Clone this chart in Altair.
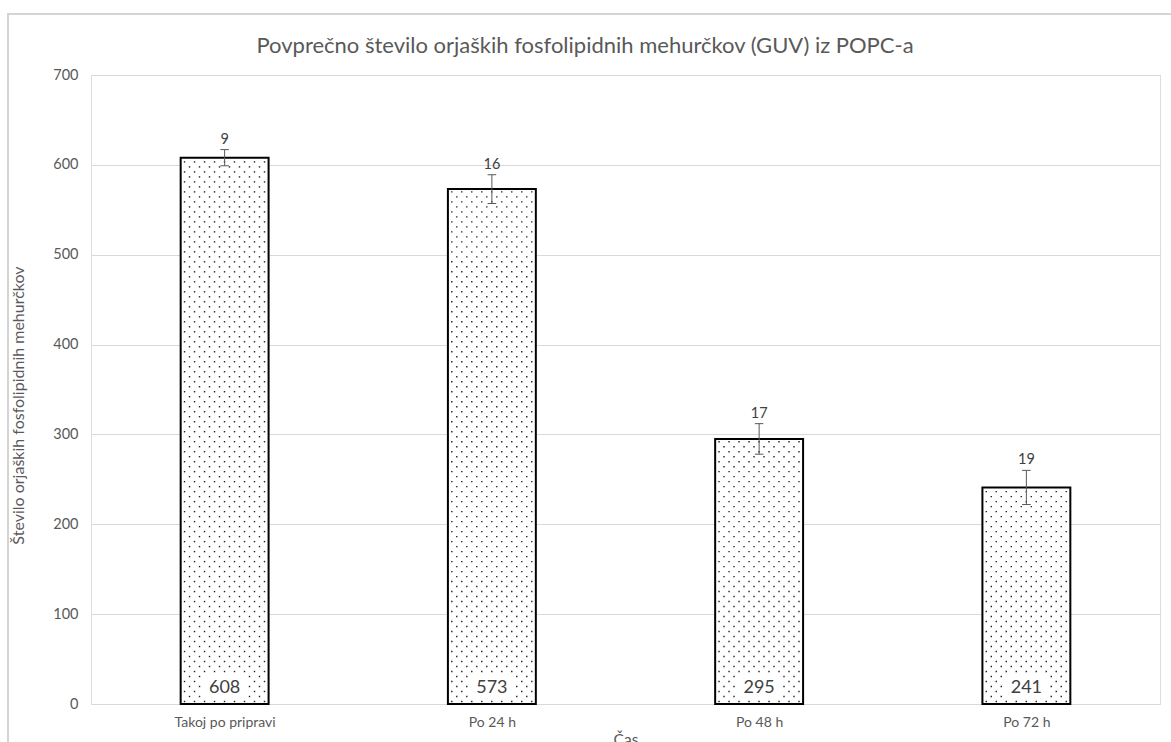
import json
import altair as alt
import pandas as pd

categories = ["Takoj po pripravi", "Po 24 h", "Po 48 h", "Po 72 h"]
means = [608, 573, 295, 241]
errors = [9, 16, 17, 19]

title_text = "Povprečno število orjaških fosfolipidnih mehurčkov (GUV) iz POPC-a"
y_title = "Število orjaških fosfolipidnih mehurčkov"
x_title = "Čas"

df = pd.DataFrame({
    "cat": categories,
    "idx": list(range(len(categories))),
    "mean": means,
    "err": errors,
})
title_df = pd.DataFrame({"t": [title_text]})

FONT = "Lato"
GREY = "#595959"
HALF = 0.1645

label_expr = json.dumps(categories) + "[datum.value]"

xscale = alt.Scale(domain=[-0.5, 3.5], nice=False, zero=False)
yscale = alt.Scale(domain=[0, 700], nice=False)

base = alt.Chart(df).transform_calculate(
    xl=f"datum.idx - {HALF}", xr=f"datum.idx + {HALF}",
    hi="datum.mean + datum.err", lo="datum.mean - datum.err",
    cl="datum.idx - 0.016", cr="datum.idx + 0.016",
)

x_axis = alt.Axis(values=[0, 1, 2, 3], labelExpr=label_expr, grid=False, domain=False,
                  ticks=False, labelPadding=11, labelFontSize=14, labelColor=GREY,
                  labelFont=FONT, title=x_title, titleFontSize=15.5, titleColor=GREY,
                  titleFont=FONT, titleFontWeight="normal", titlePadding=3)
y_axis = alt.Axis(values=[0, 100, 200, 300, 400, 500, 600, 700], grid=True,
                  gridColor="#d9d9d9", gridWidth=1, domain=False, ticks=False,
                  labelPadding=13, labelFontSize=14.5, labelColor=GREY, labelFont=FONT,
                  title=y_title, titleFontSize=16, titleColor=GREY, titleFont=FONT,
                  titleFontWeight="normal", titlePadding=26, titleY=330)

bars = base.mark_rect(fill="white", stroke=None).encode(
    x=alt.X("xl:Q", scale=xscale, axis=x_axis),
    x2="xr:Q",
    y=alt.Y("mean:Q", scale=yscale, axis=y_axis),
    y2=alt.datum(0),
)

dots = alt.Chart(df).transform_calculate(
    rows="sequence(2.8, datum.mean - 1, 5.56)"
).transform_flatten(["rows"]).transform_calculate(
    cols="sequence(-0.150 + (round((datum.rows - 2.8) / 5.56) % 2) * 0.0187, 0.158, 0.0374)"
).transform_flatten(["cols"]).transform_calculate(
    xd="datum.idx + datum.cols"
).transform_filter(
    "!(abs(datum.cols) < 0.08 && datum.rows > 4 && datum.rows < 33)"
).mark_point(shape="square", filled=True, size=2.0, color="#222222", opacity=1).encode(
    x=alt.X("xd:Q", scale=xscale),
    y=alt.Y("rows:Q", scale=yscale),
)

outline = base.mark_rect(fill=None, stroke="black", strokeWidth=2).encode(
    x=alt.X("xl:Q", scale=xscale), x2="xr:Q",
    y=alt.Y("mean:Q", scale=yscale), y2=alt.datum(0),
)

err_rule = base.mark_rule(color=GREY, strokeWidth=1).encode(
    x=alt.X("idx:Q", scale=xscale), y=alt.Y("lo:Q", scale=yscale), y2="hi:Q",
)
cap_hi = base.mark_rule(color=GREY, strokeWidth=1).encode(
    x=alt.X("cl:Q", scale=xscale), x2="cr:Q", y=alt.Y("hi:Q", scale=yscale),
)
cap_lo = base.mark_rule(color=GREY, strokeWidth=1).encode(
    x=alt.X("cl:Q", scale=xscale), x2="cr:Q", y=alt.Y("lo:Q", scale=yscale),
)

err_text = base.mark_text(baseline="bottom", dy=-3, fontSize=14.5, color="#404040",
                          font=FONT).encode(
    x=alt.X("idx:Q", scale=xscale), y=alt.Y("hi:Q", scale=yscale), text="err:Q",
)
val_text = base.mark_text(baseline="bottom", dy=-7, fontSize=18, color="#404040",
                          font=FONT).encode(
    x=alt.X("idx:Q", scale=xscale), y=alt.datum(0), text="mean:Q",
)

frame = alt.Chart(df).mark_rect(fill=None, stroke="#d4d4d4", strokeWidth=2).encode(
    x=alt.value(-83), x2=alt.value(1100), y=alt.value(-61), y2=alt.value(700),
)

title_mark = alt.Chart(title_df).mark_text(
    fontSize=22, font=FONT, color=GREY, align="center", baseline="middle"
).encode(x=alt.value(494), y=alt.value(-29), text="t:N")

chart = alt.layer(
    frame, bars, dots, outline, err_rule, cap_hi, cap_lo, err_text, val_text, title_mark
).properties(
    width=1069, height=629,
    autosize=alt.AutoSizeParams(type="none"),
    padding={"left": 91, "top": 75, "right": 11, "bottom": 38},
).configure_view(stroke=None).configure(background="white")

chart.save("out.html", embed_options={"renderer": "svg", "actions": False})
